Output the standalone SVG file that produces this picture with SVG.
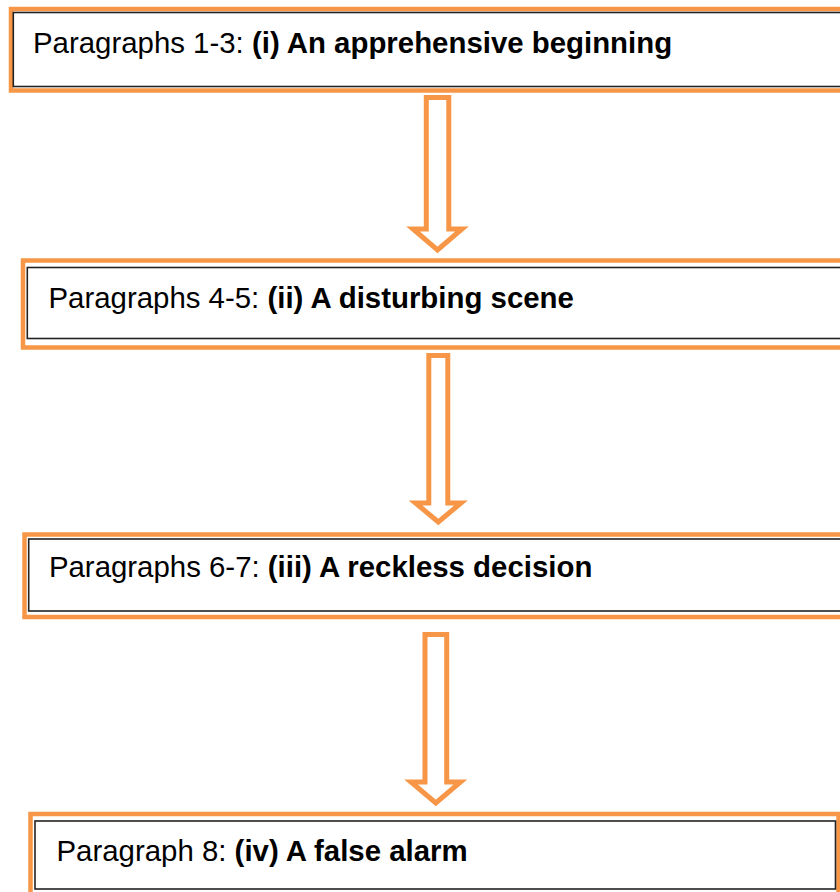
<svg xmlns="http://www.w3.org/2000/svg" width="840" height="892" viewBox="0 0 840 892">
<style>
.outer{fill:none;stroke:#F79646;stroke-width:4.5}
.inner{fill:#fff;stroke:#222;stroke-width:1.6}
.arrow{fill:#fff;stroke:#F79646;stroke-width:5;stroke-linejoin:miter;stroke-miterlimit:10}
text{font-family:"Liberation Sans",Arial,sans-serif;font-size:29.4px;fill:#000}
.b{font-weight:bold}
</style>
<rect x="0" y="0" width="840" height="892" fill="#fff"/>
<g id="node1">
<rect class="outer" x="11" y="9" width="840" height="81.5"/>
<rect class="inner" x="13.3" y="12.5" width="840" height="74"/>
<text x="33" y="52.5">Paragraphs 1-3: <tspan class="b">(i) An apprehensive beginning</tspan></text>
</g>
<g id="node2">
<rect class="outer" x="23" y="260.5" width="830" height="87"/>
<rect class="inner" x="27.3" y="267.5" width="830" height="71"/>
<text x="48.5" y="307.5">Paragraphs 4-5: <tspan class="b">(ii) A disturbing scene</tspan></text>
</g>
<g id="node3">
<rect class="outer" x="24.5" y="534.5" width="830" height="82.5"/>
<rect class="inner" x="28.7" y="539" width="830" height="72"/>
<text x="48.9" y="576.5">Paragraphs 6-7: <tspan class="b">(iii) A reckless decision</tspan></text>
</g>
<g id="node4">
<rect class="outer" x="30.5" y="814" width="808" height="90"/>
<rect class="inner" x="35" y="821" width="800.5" height="68"/>
<text x="56.5" y="860.5">Paragraph 8: <tspan class="b">(iv) A false alarm</tspan></text>
</g>
<g id="connectors">
<polygon class="arrow" points="426.3,97.5 448.8,97.5 448.8,229 462,229 437.5,250 413,229 426.3,229"/>
<polygon class="arrow" points="428.8,355.5 447.8,355.5 447.8,503 461,503 438.3,522 415.5,503 428.8,503"/>
<polygon class="arrow" points="425,634.5 446.7,634.5 446.7,782 460.5,782 435.8,803 411,782 425,782"/>
</g>
</svg>
